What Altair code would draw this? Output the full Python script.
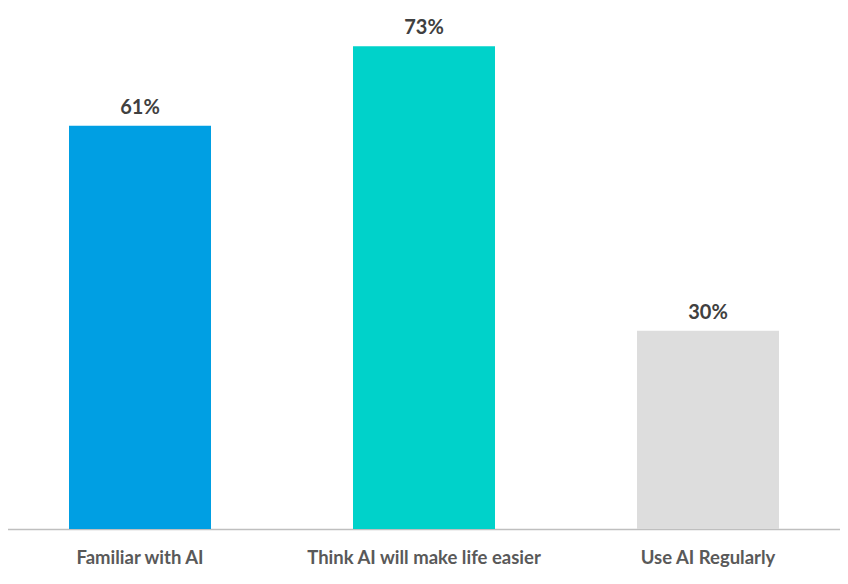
import altair as alt
import pandas as pd

categories = ["Familiar with AI", "Think AI will make life easier", "Use AI Regularly"]
values = [61, 73, 30]
colors = ["#009FE3", "#00D2CA", "#DDDDDD"]
labels = ["61%", "73%", "30%"]

df = pd.DataFrame({"cat": categories, "val": values, "color": colors, "label": labels})

x = alt.X("cat:N", sort=categories, title=None,
          scale=alt.Scale(range=[-10, 842], paddingInner=0.5, paddingOuter=0.25),
          axis=alt.Axis(labelAngle=0, labelFont="Lato", labelFontWeight="bold",
                        labelFontSize=18.5, labelColor="#595959", labelPadding=19,
                        labelLimit=0, ticks=False, domainColor="#BFBFBF", domainWidth=1.5))
y = alt.Y("val:Q", title=None, scale=alt.Scale(domain=[0, 78.8], nice=False), axis=None)

bars = alt.Chart(df).mark_bar().encode(x=x, y=y, color=alt.Color("color:N", scale=None))
text = alt.Chart(df).mark_text(dy=-12, baseline="alphabetic", font="Lato", fontWeight="bold",
                               fontSize=20, color="#404040").encode(
    x=alt.X("cat:N", sort=categories), y="val:Q", text="label:N")

chart = alt.layer(bars, text).properties(
    width=832, height=521, background="white",
    padding={"left": 0, "right": 0, "top": 0, "bottom": 40},
    autosize=alt.AutoSizeParams(type="none")
).configure_view(stroke=None)

chart.save("out.html", embed_options={"renderer": "svg", "actions": False})
